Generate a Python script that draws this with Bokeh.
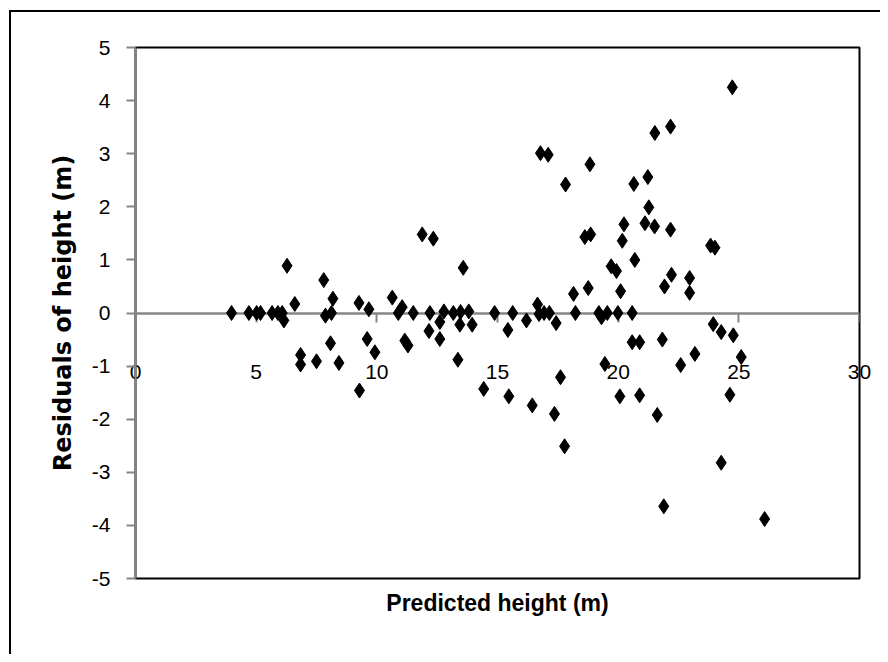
from bokeh.plotting import figure
from bokeh.models import Range1d, FixedTicker, LinearAxis, Title, InlineStyleSheet
from bokeh.embed import file_html
from bokeh.resources import INLINE

# Predicted height (m)
predicted = [
    3.98, 4.70, 5.02, 5.18, 5.66, 5.90, 6.08, 6.15, 6.28, 6.60,
    6.84, 6.84, 7.50, 7.80, 7.87, 8.08, 8.12, 8.18, 8.43, 9.26,
    9.28, 9.60, 9.67, 9.92, 10.64, 10.89, 11.05, 11.16, 11.29, 11.51,
    11.88, 12.16, 12.20, 12.34, 12.61, 12.61, 12.78, 13.17, 13.36, 13.44,
    13.47, 13.58, 13.81, 13.95, 14.43, 14.88,
    15.43, 15.47, 15.63, 16.20, 16.44, 16.66, 16.72, 16.78, 16.93, 17.10,
    17.15, 17.36, 17.43, 17.61, 17.78, 17.82, 18.15, 18.23, 18.62, 18.76,
    18.83, 18.86, 19.20, 19.31, 19.45, 19.55, 19.71, 19.93, 19.99, 20.07,
    20.10, 20.17, 20.24, 20.58, 20.58, 20.65, 20.69, 20.89, 20.89, 21.11,
    21.23, 21.27, 21.51, 21.52, 21.62, 21.83, 21.89, 21.92, 22.17, 22.17,
    22.21, 22.59, 22.96, 22.96, 23.18, 23.83, 24.01, 23.94, 24.27, 24.27,
    24.63, 24.73, 24.77, 25.10, 26.07,
]
# Residuals of height (m)
residuals = [
    0.00, 0.00, 0.00, 0.00, 0.00, 0.00, 0.00, -0.14, 0.89, 0.17,
    -0.79, -0.97, -0.91, 0.62, -0.05, -0.57, 0.00, 0.27, -0.94, 0.19,
    -1.46, -0.49, 0.07, -0.74, 0.29, 0.00, 0.11, -0.52, -0.61, 0.00,
    1.48, -0.34, 0.00, 1.40, -0.17, -0.49, 0.03, 0.00, -0.88, -0.22,
    0.02, 0.85, 0.03, -0.22, -1.43, 0.00,
    -0.32, -1.57, 0.00, -0.14, -1.74, 0.16, -0.02, 3.01, 0.00, 2.98,
    0.00, -1.90, -0.19, -1.21, -2.51, 2.42, 0.36, 0.00, 1.43, 0.47,
    2.80, 1.48, 0.00, -0.08, -0.96, 0.00, 0.88, 0.79, 0.00, -1.57,
    0.41, 1.36, 1.67, 0.00, -0.55, 2.43, 1.00, -0.55, -1.55, 1.69,
    2.56, 1.99, 1.63, 3.39, -1.92, -0.50, -3.64, 0.50, 3.51, 1.57,
    0.72, -0.98, 0.66, 0.38, -0.77, 1.27, 1.23, -0.21, -0.36, -2.82,
    -1.54, 4.25, -0.42, -0.83, -3.88,
]

x_ticks = [0, 5, 10, 15, 20, 25, 30]
y_ticks = [-5, -4, -3, -2, -1, 0, 1, 2, 3, 4, 5]

x_label = "Predicted height (m)"
y_label = "Residuals of height (m)"

AXIS_GRAY = "#868686"
TICK_FONT = "Liberation Sans"

p = figure(width=880, height=654, output_backend="svg", toolbar_location=None,
           x_range=Range1d(0, 30), y_range=Range1d(-5, 5),
           x_axis_location=None,
           min_border_left=135, min_border_right=21,
           min_border_top=47, min_border_bottom=76)
p.title.visible = False
p.grid.visible = False
p.outline_line_color = "black"
p.outline_line_width = 2
p.background_fill_color = "white"
p.border_fill_color = "white"

# outer chart border (left and top edges visible in the reference)
p.stylesheets = [InlineStyleSheet(css="""
:host { position: relative; }
:host::after {
  content: ""; position: absolute; left: 9px; top: 10px; right: 0; bottom: 0;
  border-left: 2px solid black; border-top: 2px solid black;
  pointer-events: none; z-index: 10;
}
""")]

# y axis
ya = p.yaxis[0]
ya.ticker = FixedTicker(ticks=y_ticks)
ya.major_label_overrides = {t: str(t) for t in y_ticks}
ya.axis_line_color = AXIS_GRAY
ya.axis_line_width = 2
ya.major_tick_line_color = AXIS_GRAY
ya.major_tick_line_width = 2
ya.major_tick_out = 9
ya.major_tick_in = 0
ya.minor_tick_line_color = None
ya.major_label_text_font = TICK_FONT
ya.major_label_text_font_size = "21px"
ya.major_label_text_color = "black"
ya.major_label_standoff = 16
ya.axis_label = y_label
ya.axis_label_text_font = "DejaVu Sans"
ya.axis_label_text_font_style = "bold"
ya.axis_label_text_font_size = "24px"
ya.axis_label_text_color = "black"
ya.axis_label_standoff = 12

# tick labels of x, shown near y = -1 as in the reference
xl = LinearAxis(ticker=FixedTicker(ticks=x_ticks))
xl.major_label_overrides = {t: str(t) for t in x_ticks}
xl.axis_line_color = None
xl.major_tick_line_color = None
xl.minor_tick_line_color = None
xl.major_tick_out = 0
xl.major_tick_in = 0
xl.major_label_text_font = TICK_FONT
xl.major_label_text_font_size = "21px"
xl.major_label_text_color = "black"
xl.major_label_standoff = -214
p.add_layout(xl, "below")

# x axis line crossing at y = 0
xa = LinearAxis(ticker=FixedTicker(ticks=x_ticks), fixed_location=0)
xa.axis_line_color = AXIS_GRAY
xa.axis_line_width = 2.5
xa.major_tick_line_color = AXIS_GRAY
xa.major_tick_line_width = 2
xa.major_tick_out = 9
xa.major_tick_in = 0
xa.minor_tick_line_color = None
xa.major_label_text_font_size = "0px"
xa.major_label_text_color = None
p.add_layout(xa, "below")

p.add_layout(Title(text=x_label, align="center", text_font=TICK_FONT,
                   text_font_style="bold", text_font_size="23px",
                   text_color="black", standoff=18), "below")

p.scatter(predicted, residuals, marker="diamond", size=15,
          fill_color="black", line_color="black", level="annotation")

open("out.html", "w").write(file_html(p, INLINE))
